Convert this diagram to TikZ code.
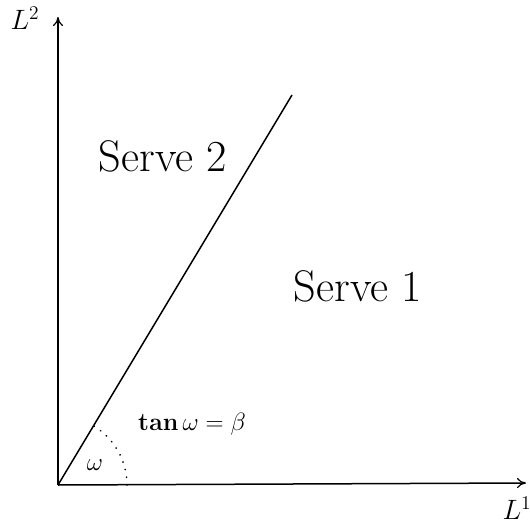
\documentclass[tikz,border=0pt]{standalone}
\usepackage{graphicx}
\usetikzlibrary{arrows.meta}
\newcommand{\bigtxt}[1]{\scalebox{1.78}{\Huge #1}}
\newcommand{\midtxt}[1]{\scalebox{1.205}{\huge #1}}
\newcommand{\labtxt}[1]{\scalebox{1.35}{\huge #1}}
\begin{document}
\begin{tikzpicture}[x=1pt,y=-1pt,
  axis/.style={line width=1.5pt,-{Computer Modern Rightarrow[length=9pt,width=10pt,line width=1.2pt]}},
  dotarc/.style={line width=1.9pt, line cap=round, dash pattern=on 0.01pt off 7.8pt}]
\useasboundingbox (0,0) rectangle (530,527);
\coordinate (O) at (58,485);
\coordinate (ytip) at (58,17);
\coordinate (xtip) at (526,483);
\coordinate (lend) at (292,95);
\coordinate (arcstart) at (127,485);
\draw[axis] (O) -- (ytip);
\draw[axis] (O) -- (xtip);
\draw[line width=1.5pt] (O) -- (lend);
\draw[dotarc] (arcstart) arc[start angle=0, end angle=-59.1, radius=69];
\node (l2) at (25,18) {\labtxt{$L^2$}};
\node (l1) at (517,508) {\labtxt{$L^1$}};
\node (s2) at (163,156) {\bigtxt{Serve 2}};
\node (s1) at (358,286) {\bigtxt{Serve 1}};
\node (tan) at (192,424) {\midtxt{$\mathbf{tan}\,\omega=\beta$}};
\node (om) at (95,465) {\midtxt{$\omega$}};
\end{tikzpicture}
\end{document}
